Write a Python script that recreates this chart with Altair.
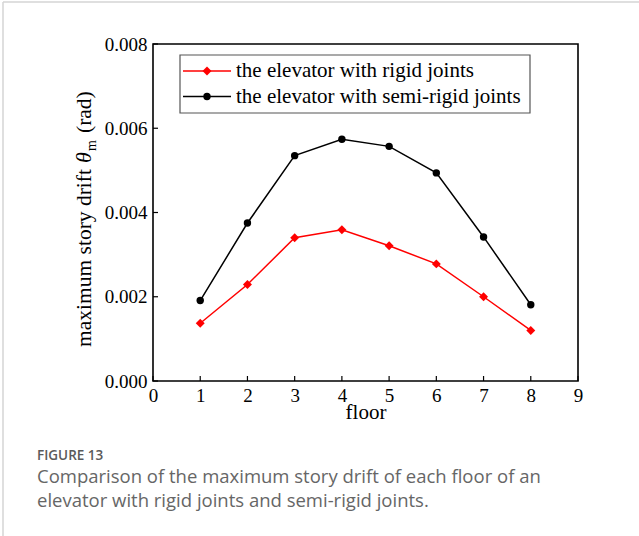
import altair as alt
import pandas as pd

# Maximum story drift per floor (rad)
floors = [1, 2, 3, 4, 5, 6, 7, 8]
rigid = [0.00137, 0.00229, 0.00340, 0.00359, 0.00321, 0.00278, 0.00200, 0.00120]
semi_rigid = [0.00191, 0.00375, 0.00535, 0.00574, 0.00557, 0.00494, 0.00342, 0.00181]

series_names = ["the elevator with rigid joints", "the elevator with semi-rigid joints"]
series_colors = ["#ff0000", "#000000"]
series_shapes = ["diamond", "circle"]
series_sizes = [80, 55]

x_ticks = [0, 1, 2, 3, 4, 5, 6, 7, 8, 9]
y_ticks = [0.000, 0.002, 0.004, 0.006, 0.008]

caption_head = "FIGURE 13"
caption_lines = [
    "Comparison of the maximum story drift of each floor of an",
    "elevator with rigid joints and semi-rigid joints.",
]

W, H = 425, 337
SERIF = "Liberation Serif"

df = pd.DataFrame(
    {
        "floor": floors * 2,
        "drift": rigid + semi_rigid,
        "series": [series_names[0]] * len(floors) + [series_names[1]] * len(floors),
    }
)

xs = alt.Scale(domain=[0, 9], nice=False, zero=False)
ys = alt.Scale(domain=[0, 0.008], nice=False)
color = alt.Color("series:N", scale=alt.Scale(domain=series_names, range=series_colors), legend=None)
shape = alt.Shape("series:N", scale=alt.Scale(domain=series_names, range=series_shapes), legend=None)
size = alt.Size("series:N", scale=alt.Scale(domain=series_names, range=series_sizes), legend=None)

x_axis = alt.Axis(
    values=x_ticks, format="d", tickSize=0, labelPadding=5, domain=False, grid=False,
    labelFlush=False, labelFont=SERIF, labelFontSize=19, labelColor="#000",
    title="floor", titleFont=SERIF, titleFontSize=21, titleFontWeight="normal",
    titleColor="#000", titlePadding=-4,
)
y_axis = alt.Axis(
    values=y_ticks, format=".3f", tickSize=0, labelPadding=6, domain=False, grid=False,
    labelFlush=False, labelFont=SERIF, labelFontSize=19, labelColor="#000", title=None,
)

lines = alt.Chart(df).mark_line(strokeWidth=1.5).encode(
    x=alt.X("floor:Q", scale=xs, axis=x_axis, title="floor"),
    y=alt.Y("drift:Q", scale=ys, axis=y_axis, title=None),
    color=color,
    detail="series:N",
)
points = alt.Chart(df).mark_point(filled=True, opacity=1).encode(
    x=alt.X("floor:Q", scale=xs, axis=x_axis, title="floor"),
    y=alt.Y("drift:Q", scale=ys, axis=y_axis, title=None),
    color=color,
    shape=shape,
    size=size,
)

# inward-pointing tick marks
xt = alt.Chart(pd.DataFrame({"t": x_ticks})).mark_rule(color="#000", strokeWidth=1.2).encode(
    x=alt.X("t:Q", scale=xs, axis=x_axis, title="floor"), y=alt.value(H), y2=alt.value(H - 5)
)
yt = alt.Chart(pd.DataFrame({"t": y_ticks})).mark_rule(color="#000", strokeWidth=1.2).encode(
    y=alt.Y("t:Q", scale=ys, axis=y_axis, title=None), x=alt.value(0), x2=alt.value(5)
)

one = pd.DataFrame({"k": [0]})

# y-axis title with italic theta and subscript m (rotated text pieces)
ytitle_x, ytitle_y = -62, 303
ytitle_parts = [
    ("maximum story drift", 0, 0, 21.5, "normal"),
    ("θ", 184, 0, 22, "italic"),
    ("m", 196, 5, 14, "normal"),
    ("(rad)", 214, 0, 21.5, "normal"),
]
ytitle_layers = [
    alt.Chart(one).mark_text(
        angle=270, align="left", baseline="alphabetic", font=SERIF, fontSize=fs,
        fontStyle=st, dx=dx, dy=dy, color="#000",
    ).encode(x=alt.value(ytitle_x), y=alt.value(ytitle_y), text=alt.value(txt))
    for txt, dx, dy, fs, st in ytitle_parts
]

# legend box
legend_box = alt.Chart(one).mark_rect(fill="white", stroke="#555", strokeWidth=1.2).encode(
    x=alt.value(27), x2=alt.value(377), y=alt.value(11), y2=alt.value(69)
)
legend_layers = [legend_box]
for i, name in enumerate(series_names):
    ry = 27 + i * 25.5
    legend_layers.append(
        alt.Chart(one).mark_rule(color=series_colors[i], strokeWidth=1.5).encode(
            x=alt.value(30), x2=alt.value(78), y=alt.value(ry)
        )
    )
    legend_layers.append(
        alt.Chart(one).mark_point(filled=True, size=series_sizes[i], opacity=1,
                                  shape=series_shapes[i], color=series_colors[i]).encode(
            x=alt.value(54), y=alt.value(ry)
        )
    )
    legend_layers.append(
        alt.Chart(one).mark_text(align="left", baseline="middle", font=SERIF, fontSize=21,
                                 color="#000").encode(
            x=alt.value(83), y=alt.value(ry), text=alt.value(name)
        )
    )

# page frame and caption
frame_top = alt.Chart(one).mark_rule(color="#d4d4d4", strokeWidth=1.5).encode(
    x=alt.value(-150), x2=alt.value(639 - 153), y=alt.value(-42)
)
frame_left = alt.Chart(one).mark_rule(color="#d4d4d4", strokeWidth=1.5).encode(
    x=alt.value(-150), y=alt.value(-42), y2=alt.value(536 - 44)
)
cap_head = alt.Chart(one).mark_text(
    align="left", baseline="alphabetic", font="Open Sans", fontSize=13.5, fontWeight=600,
    color="#5a5a5a",
).encode(x=alt.value(-116), y=alt.value(416), text=alt.value(caption_head))
cap_body = [
    alt.Chart(one).mark_text(
        align="left", baseline="alphabetic", font="Open Sans", fontSize=18.5, color="#666",
    ).encode(x=alt.value(-116), y=alt.value(439 + 24 * j), text=alt.value(line))
    for j, line in enumerate(caption_lines)
]

chart = alt.layer(
    lines, points, xt, yt, *ytitle_layers, *legend_layers,
    frame_top, frame_left, cap_head, *cap_body,
).properties(
    width=W, height=H,
    autosize=alt.AutoSizeParams(type="none"),
    padding={"left": 153, "top": 44, "right": 61, "bottom": 155},
).configure(
    background="white",
    view=alt.ViewConfig(stroke="#000", strokeWidth=1.6),
)

chart.save("out.html", embed_options={"renderer": "svg", "actions": False})
